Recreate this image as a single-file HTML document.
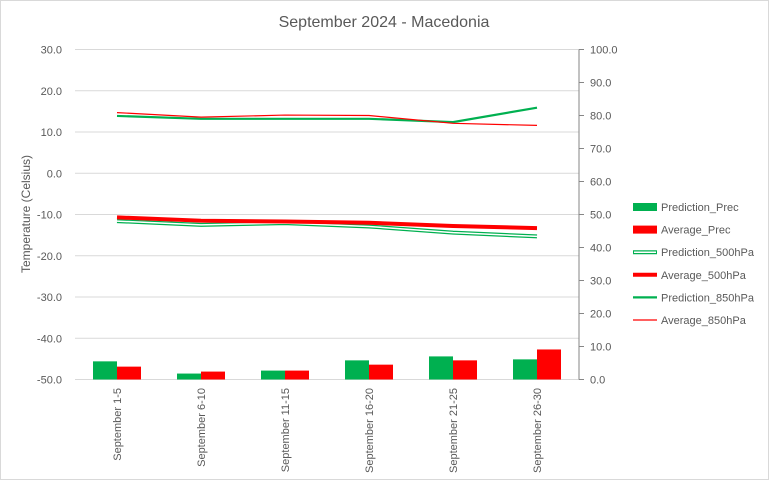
<!DOCTYPE html>
<html><head><meta charset="utf-8"><style>
body{margin:0;background:#fff;font-family:"Liberation Sans",sans-serif;}
svg text{font-family:"Liberation Sans",sans-serif;fill:#595959;}
</style></head><body>
<svg id="chart" width="769" height="480">
<rect x="0.5" y="0.5" width="768" height="479" fill="#fff" stroke="#d9d9d9"/>
<text x="384" y="27" text-anchor="middle" font-size="16">September 2024 - Macedonia</text>
<text transform="translate(30,214) rotate(-90)" text-anchor="middle" font-size="12">Temperature (Celsius)</text>
<g id="grid"></g><g id="bars"></g><g id="lines"></g><g id="axes"></g><g id="legend"></g>
</svg>
<script>
const categories=["September 1-5","September 6-10","September 11-15","September 16-20","September 21-25","September 26-30"];
const predPrec=[5.5,1.8,2.7,5.8,7.0,6.1];
const avgPrec=[3.9,2.4,2.7,4.5,5.8,9.1];
const pred500=[-11.6,-12.5,-12.1,-12.9,-14.4,-15.3];
const avg500=[-10.7,-11.5,-11.7,-12.0,-12.8,-13.3];
const pred850=[13.9,13.2,13.2,13.2,12.4,15.9];
const avg850=[14.7,13.6,14.1,14.0,12.1,11.6];
const leftTicks=[30,20,10,0,-10,-20,-30,-40,-50];
const rightTicks=[100,90,80,70,60,50,40,30,20,10,0];
const NS="http://www.w3.org/2000/svg";
const X0=75,X1=579,Y0=49.5,Y1=379.5;
const band=(X1-X0)/categories.length;
const xc=i=>X0+band*(i+0.5);
const yL=v=>Y0+(30-v)/80*(Y1-Y0);
const yR=v=>Y1-v/100*(Y1-Y0);
function mk(tag,attrs,parent){const e=document.createElementNS(NS,tag);for(const k in attrs)e.setAttribute(k,attrs[k]);document.getElementById(parent).appendChild(e);return e;}
leftTicks.forEach(t=>{
 const g=mk('line',{x1:X0,x2:X1,y1:yL(t),y2:yL(t),stroke:'#d9d9d9'},'grid');
 
 
 const l=mk('text',{x:62,y:yL(t)+4,'text-anchor':'end','font-size':11},'axes');l.textContent=t.toFixed(1);
 
 
});
rightTicks.forEach(t=>{
 const tk=mk('line',{x1:X1,x2:X1+5,y1:yR(t),y2:yR(t),stroke:'#868686'},'axes');
 
 
 const l=mk('text',{x:590,y:yR(t)+4,'font-size':11},'axes');l.textContent=t.toFixed(1);
 
 
});
const ax=mk('line',{x1:X1,x2:X1,y1:Y0,y2:Y1,stroke:'#868686'},'axes');


const bw=24;
categories.forEach((c,i)=>{
 const b1=mk('rect',{x:xc(i)-bw,y:yR(predPrec[i]),width:bw,height:Y1-yR(predPrec[i]),fill:'#00b050'},'bars');
 
 
 const b2=mk('rect',{x:xc(i),y:yR(avgPrec[i]),width:bw,height:Y1-yR(avgPrec[i]),fill:'#ff0000'},'bars');
 
 
 const l=mk('text',{transform:`translate(${xc(i)+4},388) rotate(-90)`,'text-anchor':'end','font-size':11},'axes');l.textContent=c;
 
 
});
function pts(a){return a.map((v,i)=>xc(i)+','+yL(v)).join(' ');}
const p5o=mk('polyline',{points:pts(pred500),fill:'none',stroke:'#00b050','stroke-width':4},'lines');


const p5i=mk('polyline',{points:pts(pred500),fill:'none',stroke:'#fff','stroke-width':1.5},'lines');


const a5=mk('polyline',{points:pts(avg500),fill:'none',stroke:'#ff0000','stroke-width':4},'lines');


const p8=mk('polyline',{points:pts(pred850),fill:'none',stroke:'#00b050','stroke-width':2.2},'lines');


const a8=mk('polyline',{points:pts(avg850),fill:'none',stroke:'#ff0000','stroke-width':1.2},'lines');


const leg=[["Prediction_Prec","rect","#00b050"],["Average_Prec","rect","#ff0000"],["Prediction_500hPa","double","#00b050"],["Average_500hPa","thick","#ff0000"],["Prediction_850hPa","line","#00b050"],["Average_850hPa","thin","#ff0000"]];
leg.forEach((e,i)=>{
 const y=207+i*22.6;
 let m;
 if(e[1]=="rect")m=mk('rect',{x:633,y:y-4,width:24,height:8,fill:e[2]},'legend');
 else if(e[1]=="double"){m=mk('line',{x1:633,x2:657,y1:y,y2:y,stroke:e[2],'stroke-width':4},'legend');mk('line',{x1:634,x2:656,y1:y,y2:y,stroke:'#fff','stroke-width':1.5},'legend');}
 else m=mk('line',{x1:633,x2:657,y1:y,y2:y,stroke:e[2],'stroke-width':e[1]=="thick"?4:(e[1]=="line"?2.2:1.2)},'legend');
 
 
 const t=mk('text',{x:661,y:y+4,'font-size':11},'legend');t.textContent=e[0];
 
 
});
</script>
</body></html>
